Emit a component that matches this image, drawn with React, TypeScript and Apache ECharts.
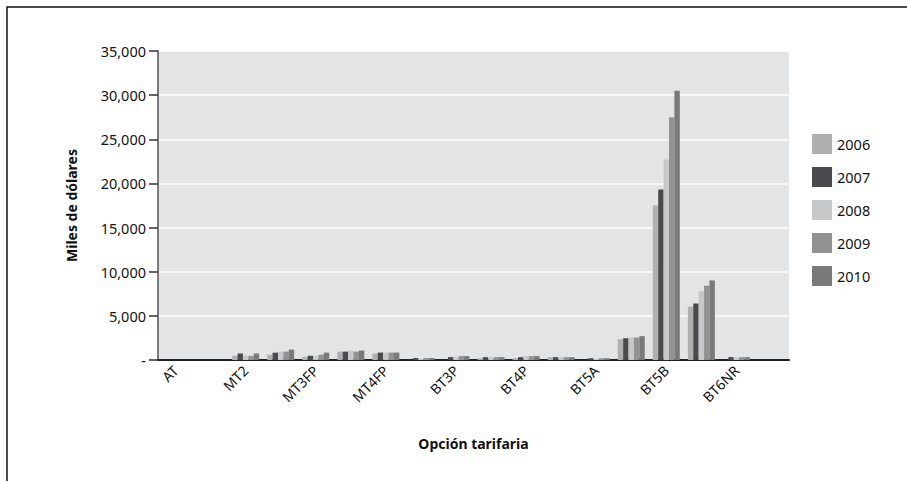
import React, { useEffect, useRef } from "react";
import * as echarts from "echarts";

const categories = [
  "AT", "MT1", "MT2", "MT3PP", "MT3FP", "MT4PP", "MT4FP", "BT2", "BT3P",
  "BT3FP", "BT4P", "BT4FP", "BT5A", "BT5AFP", "BT5B", "BT5BNR", "BT6NR", "BT7",
];
const years = ["2006", "2007", "2008", "2009", "2010"];
const v2006 = [0, 0, 470, 600, 350, 950, 720, 0, 0, 200, 200, 320, 0, 2350, 17500, 6050, 0, 0];
const v2007 = [0, 0, 740, 830, 480, 950, 840, 220, 330, 320, 320, 320, 200, 2470, 19300, 6400, 330, 0];
const v2008 = [0, 0, 470, 950, 480, 1070, 840, 150, 330, 320, 440, 320, 130, 2550, 22700, 7820, 300, 0];
const v2009 = [0, 0, 470, 950, 600, 950, 840, 220, 440, 320, 440, 320, 200, 2550, 27500, 8420, 320, 0];
const v2010 = [0, 0, 740, 1180, 840, 1070, 840, 220, 440, 320, 440, 320, 200, 2700, 30500, 9010, 320, 0];
const seriesValues = [v2006, v2007, v2008, v2009, v2010];
const colors = ["#b0b0b1", "#4a4a4c", "#c7c8c9", "#929293", "#7a7a7b"];
const yTicks = { min: 0, max: 35000, interval: 5000 };

const FONT = "'Noto Sans', 'Open Sans', sans-serif";

export default function App() {
  const ref = useRef<HTMLDivElement>(null);
  useEffect(() => {
    if (!ref.current) return;
    const chart = echarts.init(ref.current, undefined, { renderer: "svg" });
    chart.setOption({
      animation: false,
      backgroundColor: "#ffffff",
      textStyle: { fontFamily: FONT },
      grid: { left: 158, right: 118, top: 51, bottom: 121, containLabel: false, outerBoundsMode: "none", show: true, backgroundColor: "#e3e4e6", borderWidth: 0 },
      legend: {
        orient: "vertical",
        left: 807,
        top: 129,
        itemWidth: 20,
        itemHeight: 20,
        itemGap: 13,
        icon: "rect",
        textStyle: { fontSize: 14.5, color: "#111", fontFamily: FONT, padding: [0, 0, 0, 0] },
        data: years,
      },
      xAxis: {
        type: "category",
        data: categories,
        name: "Opción tarifaria",
        nameLocation: "middle",
        nameGap: 76,
        nameTextStyle: { fontSize: 14, fontWeight: "bold", color: "#111", fontFamily: FONT },
        axisLine: { show: true, lineStyle: { color: "#222", width: 2 } },
        axisTick: { show: false },
        axisLabel: { interval: 1, rotate: 45, hideOverlap: false, fontSize: 14, color: "#111", margin: 8, fontFamily: FONT },
        splitLine: { show: false },
      },
      yAxis: {
        type: "value",
        min: yTicks.min,
        max: yTicks.max,
        interval: yTicks.interval,
        name: "Miles de dólares",
        nameLocation: "middle",
        nameGap: 80,
        nameRotate: 90,
        nameTextStyle: { fontSize: 14, fontWeight: "bold", color: "#111", fontFamily: FONT },
        axisLine: { show: true, lineStyle: { color: "#555", width: 1.5 } },
        axisTick: { show: true, length: 9, lineStyle: { color: "#333", width: 1.5 } },
        axisLabel: {
          fontSize: 14.5,
          color: "#111",
          margin: 12,
          fontFamily: FONT,
          formatter: (v: number) => (v === 0 ? "-" : v.toLocaleString("en-US")),
        },
        splitLine: { show: true, lineStyle: { color: "#ffffff", width: 1.5 } },
      },
      series: years.map((y, i) => ({
        name: y,
        type: "bar",
        data: seriesValues[i],
        itemStyle: { color: colors[i] },
        barGap: "0%",
        barCategoryGap: "23%",
      })),
      graphic: [
        {
          type: "rect",
          shape: { x: 7, y: 7, width: 906, height: 480 },
          style: { fill: "none", stroke: "#111", lineWidth: 1.5 },
          silent: true,
        },
      ],
    });
    return () => chart.dispose();
  }, []);
  return <div ref={ref} style={{ position: "absolute", left: 0, top: 0, width: 907, height: 481 }} />;
}
